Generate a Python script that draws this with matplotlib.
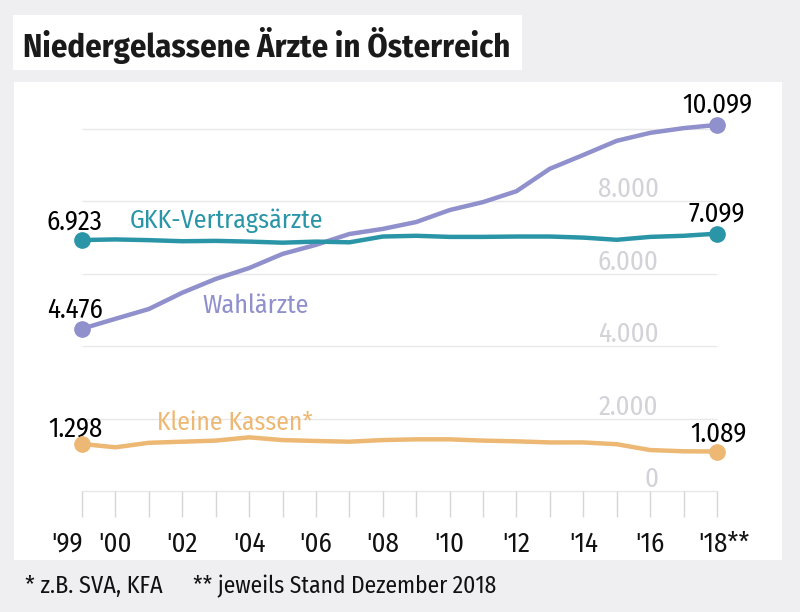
import numpy as np
import matplotlib.pyplot as plt
from matplotlib.patches import Rectangle

plt.rcParams['font.family'] = ['Fira Sans Condensed', 'DejaVu Sans']

# Daten
years = np.arange(1999, 2019)
wahl = [4476, 4750, 5020, 5470, 5850, 6150, 6540, 6790, 7090, 7230,
        7420, 7750, 7970, 8270, 8890, 9270, 9660, 9880, 10010, 10099]
gkk = [6923, 6940, 6920, 6890, 6900, 6880, 6850, 6880, 6860, 7020,
       7040, 7010, 7010, 7020, 7020, 6990, 6930, 7010, 7040, 7099]
klein = [1298, 1205, 1330, 1360, 1390, 1480, 1405, 1380, 1360, 1405,
         1425, 1425, 1390, 1370, 1340, 1340, 1290, 1130, 1095, 1089]
xtick_years = [1999, 2000, 2002, 2004, 2006, 2008, 2010, 2012, 2014, 2016, 2018]
xtick_labels = ["'99", "'00", "'02", "'04", "'06", "'08", "'10", "'12", "'14", "'16", "'18**"]
ygrid = [0, 2000, 4000, 6000, 8000, 10000]
ylabels = ["0", "2.000", "4.000", "6.000", "8.000"]
ylabel_vals = [0, 2000, 4000, 6000, 8000]

c_wahl = '#8f90cc'
c_gkk = '#2b95a8'
c_klein = '#ecb873'
c_grid = '#e8e8ea'
c_ylab = '#d2d2d8'

W, H = 800, 612
fig = plt.figure(figsize=(W / 100, H / 100), dpi=100, facecolor='#efeff1')
renderer = fig.canvas.get_renderer()


def fit(t, width_px):
    # Schriftgroesse so anpassen, dass der Text die gewuenschte Breite hat
    w = t.get_window_extent(renderer=renderer).width
    t.set_fontsize(t.get_fontsize() * width_px / w)
    return t


# weisse Flaeche fuer den Chart
left, right, top, bottom = 14, 782, 82, 560
ax = fig.add_axes([left / W, 1 - bottom / H, (right - left) / W, (bottom - top) / H])
ax.set_facecolor('white')
for s in ax.spines.values():
    s.set_visible(False)
ax.set_xticks([])
ax.set_yticks([])

px_year = (717 - 82) / 19
px_val = 72.5 / 2000
ax.set_xlim(1999 - (82 - left) / px_year, 2018 + (right - 717) / px_year)
ax.set_ylim((491 - bottom) / px_val, (491 - top) / px_val)

# Titel
fig.patches.append(Rectangle((13 / W, 1 - 70 / H), (522 - 13) / W, 55 / H,
                             transform=fig.transFigure, facecolor='white', edgecolor='none'))
t = fig.text(23 / W, 1 - 57 / H, 'Niedergelassene Ärzte in Österreich', fontsize=25,
             fontweight='bold', va='baseline', ha='left', color='#1a1a1a')
fit(t, 487)

# Gitterlinien
ax.hlines(ygrid, 1999, 2018, color=c_grid, lw=1, zorder=1)
for v, lab in zip(ylabel_vals, ylabels):
    t = ax.text(2016.25, v + 100, lab, ha='right', va='baseline', fontsize=19, color=c_ylab, zorder=1)
    if lab == '8.000':
        fit(t, 61)
        ysize = t.get_fontsize()
for tt in ax.texts:
    tt.set_fontsize(ysize)

# Ticks
ax.vlines(years, -720, 0, color='#d6d6d8', lw=1)
for yr, lab in zip(xtick_years, xtick_labels):
    ha = 'center'
    xx = yr
    if lab == "'99":
        xx = yr - 0.45
    if lab.endswith('**'):
        ha = 'left'
        xx = yr - 0.57
    ax.text(xx, -1683, lab, ha=ha, va='baseline', fontsize=ysize, color='#111111')

# Linien
for data, col in [(klein, c_klein), (wahl, c_wahl), (gkk, c_gkk)]:
    ax.plot(years, data, color=col, lw=3.2, solid_capstyle='round', solid_joinstyle='round', zorder=3)
    ax.plot([years[0], years[-1]], [data[0], data[-1]], 'o', color=col, ms=11, zorder=4)

# Beschriftungen
fit(ax.text(2000.44, 7255, 'GKK-Vertragsärzte', color=c_gkk, fontsize=18, ha='left', va='baseline'), 193)
fit(ax.text(2002.6, 4910, 'Wahlärzte', color=c_wahl, fontsize=18, ha='left', va='baseline'), 106)
fit(ax.text(2001.25, 1683, 'Kleine Kassen*', color=c_klein, fontsize=18, ha='left', va='baseline'), 156)


def fmt(v):
    return f'{v:,}'.replace(',', '.')


t = ax.text(2018, 10428, fmt(wahl[-1]), fontsize=19, ha='center', va='baseline')
fit(t, 70)
vsize = t.get_fontsize()
ax.text(1998.78, 7200, fmt(gkk[0]), fontsize=vsize, ha='center', va='baseline')
ax.text(1998.78, 4772, fmt(wahl[0]), fontsize=vsize, ha='center', va='baseline')
ax.text(1998.8, 1490, fmt(klein[0]), fontsize=vsize, ha='center', va='baseline')
ax.text(2018.0, 7420, fmt(gkk[-1]), fontsize=vsize, ha='center', va='baseline')
ax.text(2018.03, 1352, fmt(klein[-1]), fontsize=vsize, ha='center', va='baseline')

# Fussnote
fit(fig.text(25 / W, 1 - 593 / H, '* z.B. SVA, KFA', fontsize=15, va='baseline', ha='left',
             color='#111111'), 138)
fit(fig.text(193 / W, 1 - 593 / H, '** jeweils Stand Dezember 2018', fontsize=15, va='baseline',
             ha='left', color='#111111'), 304)

fig.savefig('out.png', dpi=100, facecolor=fig.get_facecolor())
